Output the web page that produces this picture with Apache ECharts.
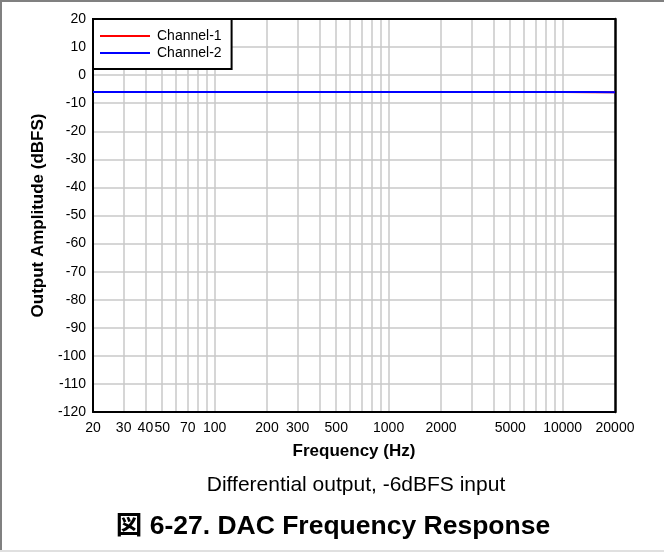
<!DOCTYPE html>
<html>
<head>
<meta charset="utf-8">
<script src="https://cdn.jsdelivr.net/npm/echarts@6/dist/echarts.min.js"></script>
<style>html,body{margin:0;padding:0;background:#fff}#c{width:664px;height:552px}</style>
</head>
<body>
<div id="c"></div>
<script>
const freqs = [20, 30, 50, 100, 200, 500, 1000, 2000, 5000, 10000, 15000, 20000];
const channel1 = [-6.0, -6.0, -6.0, -6.0, -6.0, -6.0, -6.0, -6.0, -6.0, -6.0, -6.05, -6.1];
const channel2 = [-6.0, -6.0, -6.0, -6.0, -6.0, -6.0, -6.0, -6.0, -6.0, -6.0, -6.0, -6.05];
const seriesNames = ['Channel-1', 'Channel-2'];
const xGridValues = [30, 40, 50, 60, 70, 80, 90, 100, 200, 300, 400, 500, 600, 700, 800, 900, 1000, 2000, 3000, 4000, 5000, 6000, 7000, 8000, 9000, 10000];
const xTickLabels = [20, 30, 40, 50, 70, 100, 200, 300, 500, 1000, 2000, 5000, 10000, 20000];
const xMin = 20, xMax = 20000;
const yMin = -120, yMax = 20, yStep = 10;
const xTitle = 'Frequency (Hz)';
const yTitle = 'Output Amplitude (dBFS)';
const subtitle = 'Differential output, -6dBFS input';
const caption = '図 6-27. DAC Frequency Response';

const FONT = 'Arial, "Liberation Sans", "Noto Sans CJK JP", sans-serif';
const chart = echarts.init(document.getElementById('c'), null, {renderer: 'canvas'});
const pairs = arr => freqs.map((f, i) => [f, arr[i]]);
const icon = 'path://M0,6 L50,6 L50,8 L0,8 Z';
chart.setOption({
  animation: false,
  backgroundColor: '#fff',
  textStyle: {fontFamily: FONT},
  grid: {left: 93, top: 19, right: 49, bottom: 140, show: false, containLabel: false},
  xAxis: [{
    type: 'log', logBase: 10, min: xMin, max: xMax,
    name: xTitle, nameLocation: 'middle', nameGap: 31,
    nameTextStyle: {fontFamily: FONT, fontWeight: 'bold', fontSize: 17, color: '#000'},
    axisLine: {show: true, onZero: false, lineStyle: {color: '#000', width: 2}},
    axisTick: {show: false, customValues: xGridValues},
    axisLabel: {customValues: xTickLabels, fontFamily: FONT, fontSize: 14, color: '#000', margin: 9,
      formatter: v => String(Math.round(v))},
    splitLine: {show: true, lineStyle: {color: '#c8c8c8', width: 1.5}}
  }, {
    type: 'log', logBase: 10, min: xMin, max: xMax, position: 'top',
    axisLine: {show: true, onZero: false, lineStyle: {color: '#000', width: 2}},
    axisTick: {show: false}, axisLabel: {show: false}, splitLine: {show: false}
  }],
  yAxis: [{
    type: 'value', min: yMin, max: yMax, interval: yStep,
    name: yTitle, nameLocation: 'middle', nameGap: 46,
    nameTextStyle: {fontFamily: FONT, fontWeight: 'bold', fontSize: 17, color: '#000'},
    axisLine: {show: true, onZero: false, lineStyle: {color: '#000', width: 2}},
    axisTick: {show: false},
    axisLabel: {fontFamily: FONT, fontSize: 14, color: '#000', margin: 7},
    splitLine: {show: true, lineStyle: {color: '#c8c8c8', width: 1.5}}
  }, {
    type: 'value', min: yMin, max: yMax, interval: yStep, position: 'right',
    axisLine: {show: true, onZero: false, lineStyle: {color: '#000', width: 2.5}},
    axisTick: {show: false}, axisLabel: {show: false}, splitLine: {show: false}
  }],
  legend: {
    orient: 'vertical', left: 93, top: 19,
    backgroundColor: '#fff', borderColor: '#000', borderWidth: 2,
    padding: [10, 10, 9, 7], itemGap: 3, itemWidth: 50, itemHeight: 15,
    textStyle: {fontFamily: FONT, fontSize: 14, color: '#000', padding: [0, 0, 0, 2]},
    data: [{name: seriesNames[0], icon: icon}, {name: seriesNames[1], icon: icon}]
  },
  series: [
    {name: seriesNames[0], type: 'line', data: pairs(channel1), symbol: 'none', color: '#ff0000', lineStyle: {width: 2, color: '#ff0000'}, z: 2},
    {name: seriesNames[1], type: 'line', data: pairs(channel2), symbol: 'none', color: '#0000ff', lineStyle: {width: 2, color: '#0000ff'}, z: 3}
  ],
  title: [
    {text: subtitle, left: 351, top: 470, textAlign: 'center', textStyle: {fontFamily: FONT, fontSize: 21, fontWeight: 'normal', color: '#000'}},
    {text: caption, left: 328, top: 508, textAlign: 'center', textStyle: {fontFamily: FONT, fontSize: 26.5, fontWeight: 'bold', color: '#000'}}
  ],
  graphic: [
    {type: 'line', shape: {x1: 0, y1: 1, x2: 664, y2: 1}, style: {stroke: '#808080', lineWidth: 2}, silent: true},
    {type: 'line', shape: {x1: 1, y1: 0, x2: 1, y2: 552}, style: {stroke: '#808080', lineWidth: 2}, silent: true},
    {type: 'line', shape: {x1: 0, y1: 551, x2: 664, y2: 551}, style: {stroke: '#e0e0e0', lineWidth: 2}, silent: true}
  ]
});
</script>
</body>
</html>
